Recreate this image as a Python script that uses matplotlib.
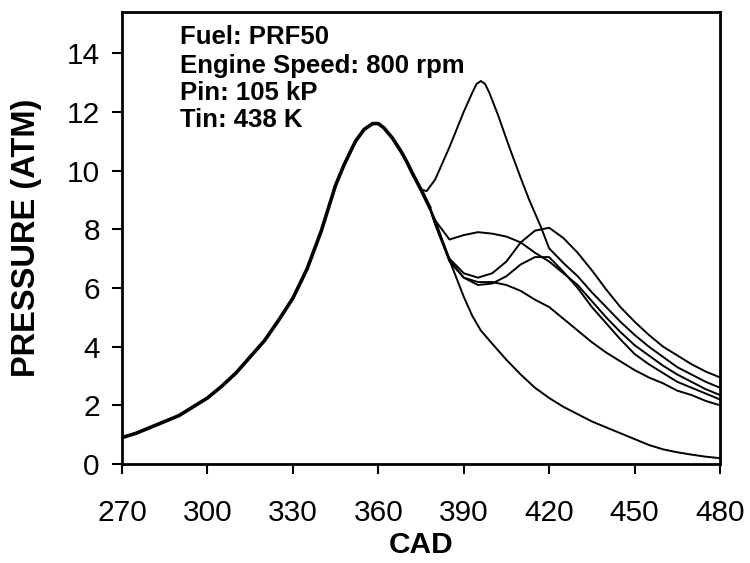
#!/usr/bin/env python3
"""
Pressure traces vs crank angle for several HCCI cycles (PRF50, 800 rpm).
Writes out.png
"""

import matplotlib
matplotlib.use("Agg")
import matplotlib.pyplot as plt

# shared compression stroke (all cycles overlap here)
CAD_COMP = [270, 275, 280, 285, 290, 295, 300, 305, 310, 315, 320, 325, 330,
            335, 340, 345, 348, 350, 352, 355, 358, 360, 362, 365, 368, 370,
            372, 375, 378]
P_COMP = [0.9, 1.05, 1.25, 1.45, 1.65, 1.95, 2.25, 2.65, 3.1, 3.65, 4.2, 4.9,
          5.65, 6.65, 7.95, 9.5, 10.2, 10.6, 11.0, 11.4, 11.6, 11.6, 11.45,
          11.1, 10.65, 10.3, 9.9, 9.35, 8.75]

# expansion for the individual cycles
CAD_EXP = [378, 380, 385, 390, 395, 400, 405, 410, 415, 420, 425, 430, 435,
           440, 445, 450, 455, 460, 465, 470, 475, 480]
P_PLATEAU = [8.75, 8.3, 7.65, 7.8, 7.9, 7.85, 7.75, 7.55, 7.2, 6.9, 6.5, 6.1,
             5.55, 5.0, 4.5, 4.05, 3.7, 3.35, 3.05, 2.8, 2.55, 2.35]
P_LATE_HI = [8.75, 8.2, 7.0, 6.5, 6.35, 6.5, 6.9, 7.55, 7.95, 8.05, 7.7, 7.2,
             6.6, 5.95, 5.35, 4.85, 4.4, 4.0, 3.7, 3.4, 3.15, 2.95]
P_LATE_LO = [8.75, 8.2, 6.95, 6.35, 6.1, 6.15, 6.4, 6.8, 7.05, 7.05, 6.55,
             6.0, 5.35, 4.8, 4.25, 3.75, 3.4, 3.1, 2.8, 2.6, 2.4, 2.2]
P_WEAK = [8.75, 8.15, 6.9, 6.35, 6.2, 6.2, 6.1, 5.9, 5.6, 5.35, 4.95, 4.55,
          4.15, 3.8, 3.5, 3.2, 2.95, 2.75, 2.5, 2.35, 2.15, 2.0]

# misfire (motored-like) cycle
CAD_MOTORED = [378, 380, 383, 385, 388, 390, 393, 396, 400, 405, 410, 415,
               420, 425, 430, 435, 440, 445, 450, 455, 460, 465, 470, 475, 480]
P_MOTORED = [8.75, 8.3, 7.5, 6.95, 6.2, 5.7, 5.05, 4.55, 4.1, 3.55, 3.05, 2.6,
             2.25, 1.95, 1.7, 1.45, 1.25, 1.05, 0.85, 0.65, 0.5, 0.4, 0.32,
             0.25, 0.2]

# early, strong cycle
CAD_STRONG = [375, 377, 380, 385, 390, 393, 394.5, 396, 397.5, 399, 402, 406,
              410, 413, 417, 420, 425, 430, 435, 440, 445, 450, 455, 460, 465,
              470, 475, 480]
P_STRONG = [9.35, 9.3, 9.7, 10.8, 12.0, 12.65, 12.95, 13.05, 12.95, 12.65,
            11.9, 10.8, 9.75, 9.0, 8.1, 7.35, 6.85, 6.4, 5.85, 5.35, 4.85,
            4.4, 4.0, 3.65, 3.3, 3.05, 2.8, 2.6]

NOTES = ["Fuel: PRF50", "Engine Speed: 800 rpm", "Pin: 105 kP", "Tin: 438 K"]
NOTE_Y = [14.3, 13.34, 12.42, 11.47]

X_TICKS = [270, 300, 330, 360, 390, 420, 450, 480]
Y_TICKS = [0, 2, 4, 6, 8, 10, 12, 14]

plt.rcParams["font.family"] = ["Liberation Sans", "DejaVu Sans"]

fig = plt.figure(figsize=(7.5, 5.63), dpi=100)
ax = fig.add_axes([0.1627, 0.1758, 0.7973, 0.8028])

ax.plot(CAD_COMP, P_COMP, color="black", linewidth=2.6, zorder=3)
for p in [P_PLATEAU, P_LATE_HI, P_LATE_LO, P_WEAK]:
    ax.plot(CAD_EXP, p, color="black", linewidth=1.4, zorder=2)
ax.plot(CAD_MOTORED, P_MOTORED, color="black", linewidth=1.4, zorder=2)
ax.plot(CAD_STRONG, P_STRONG, color="black", linewidth=1.4, zorder=2)

for txt, y in zip(NOTES, NOTE_Y):
    ax.text(290.5, y, txt, fontsize=18.5, fontweight="bold", va="baseline",
            ha="left")

ax.set_xlim(270, 480)
ax.set_ylim(0, 15.4)
ax.set_xticks(X_TICKS)
ax.set_yticks(Y_TICKS)
ax.tick_params(axis="both", direction="out", length=7, width=1.5,
               labelsize=21.5)
ax.tick_params(axis="x", pad=18)
ax.tick_params(axis="y", pad=9)

ax.set_xlabel("CAD", fontsize=21.5, fontweight="bold", labelpad=3)
ax.set_ylabel("PRESSURE (ATM)", fontsize=23.5, fontweight="bold", labelpad=18)

for side in ["top", "right", "left", "bottom"]:
    ax.spines[side].set_linewidth(2)

fig.savefig("out.png", dpi=100)
plt.close(fig)
